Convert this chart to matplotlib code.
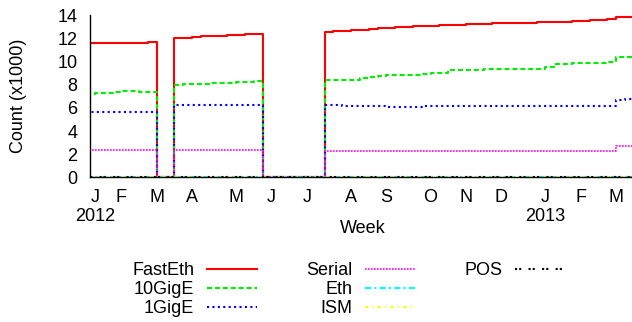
import matplotlib
matplotlib.use('Agg')
import matplotlib.pyplot as plt
from matplotlib.lines import Line2D

plt.rcParams['font.family'] = ['Liberation Sans', 'DejaVu Sans']
plt.rcParams['font.size'] = 13

# --- DATI (migliaia di interfacce, una riga per settimana) ---
weeks = list(range(63))

fasteth = [11.55, 11.57, 11.59, 11.60, 11.61, 11.62, 11.63, 11.64,
           0, 0,
           12.00, 12.05, 12.10, 12.15, 12.19, 12.23, 12.27, 12.31, 12.35, 12.38,
           0, 0, 0, 0, 0, 0, 0,
           12.56, 12.60, 12.64, 12.68, 12.73, 12.78, 12.84, 12.89, 12.93, 12.97,
           13.01, 13.05, 13.09, 13.12, 13.15, 13.18, 13.21, 13.23, 13.25, 13.27,
           13.29, 13.31, 13.33, 13.35, 13.37, 13.39, 13.41, 13.43, 13.46, 13.49,
           13.53, 13.57, 13.62, 13.82, 13.85, 13.86]
gige10 = [7.20, 7.24, 7.32, 7.40, 7.44, 7.42, 7.38, 7.34,
          0, 0,
          8.00, 8.03, 8.06, 8.09, 8.12, 8.15, 8.18, 8.21, 8.25, 8.28,
          0, 0, 0, 0, 0, 0, 0,
          8.38, 8.38, 8.39, 8.40, 8.60, 8.62, 8.75, 8.84, 8.84, 8.85,
          8.86, 8.88, 9.00, 9.02, 9.27, 9.28, 9.29, 9.30, 9.31, 9.32,
          9.33, 9.34, 9.35, 9.36, 9.37, 9.53, 9.74, 9.76, 9.88, 9.89,
          9.90, 9.90, 9.92, 10.40, 10.42, 10.45]
gige1 = [5.60, 5.60, 5.60, 5.61, 5.61, 5.60, 5.60, 5.60,
         0, 0,
         6.22, 6.22, 6.22, 6.22, 6.22, 6.22, 6.22, 6.23, 6.23, 6.23,
         0, 0, 0, 0, 0, 0, 0,
         6.26, 6.25, 6.17, 6.16, 6.16, 6.15, 6.15, 6.08, 6.07, 6.07,
         6.08, 6.12, 6.13, 6.13, 6.13, 6.13, 6.13, 6.13, 6.13, 6.13,
         6.13, 6.13, 6.13, 6.13, 6.13, 6.13, 6.13, 6.13, 6.13, 6.13,
         6.13, 6.13, 6.13, 6.70, 6.72, 6.72]
serial = [2.33] * 8 + [0] * 2 + [2.33] * 10 + [0] * 7 + [2.27] * 33 + [2.70] * 3
eth = [0.05] * 8 + [0] * 2 + [0.05] * 10 + [0] * 7 + [0.05] * 36
ism = [0.03] * 8 + [0] * 2 + [0.03] * 10 + [0] * 7 + [0.03] * 36
pos = [0.08] * 8 + [0] * 2 + [0.08] * 10 + [0] * 7 + [0.08] * 36

month_weeks = [1, 4, 8, 12, 17, 21, 25, 30, 34, 39, 43, 47, 52, 56, 60]
month_labels = ['J\n2012', 'F', 'M', 'A', 'M', 'J', 'J', 'A', 'S', 'O', 'N', 'D',
                'J\n2013', 'F', 'M']

# --- GRAFICO ---
fig = plt.figure(figsize=(6.32, 3.22), dpi=100)
ax = fig.add_axes([0.1424, 0.4488, 0.8576, 0.5046])

lw = 1.5
l1, = ax.plot(weeks, fasteth, color='#ff0000', lw=lw, drawstyle='steps-post', label='FastEth')
l2, = ax.plot(weeks, gige10, color='#00ee00', lw=lw, drawstyle='steps-post',
              dashes=(2.4, 1.4), label='10GigE')
l3, = ax.plot(weeks, gige1, color='#0000ff', lw=lw, drawstyle='steps-post',
              dashes=(1.0, 1.6), label='1GigE')
l4, = ax.plot(weeks, serial, color='#ff00ff', lw=1.2, drawstyle='steps-post',
              dashes=(1.0, 0.8), label='Serial')
l5, = ax.plot(weeks, eth, color='#00ffff', lw=lw, drawstyle='steps-post',
              dashes=(3, 1.5, 1, 1.5), label='Eth')
l6, = ax.plot(weeks, ism, color='#ffff00', lw=lw, drawstyle='steps-post',
              dashes=(1.5, 2, 0.6, 2), label='ISM')
l7, = ax.plot(weeks, pos, color='black', lw=lw, drawstyle='steps-post',
              dashes=(1, 1, 1, 3.5), label='POS')

ax.set_xlim(0.45, 61.8)
ax.set_ylim(0, 14)
ax.set_yticks(range(0, 15, 2))
ax.set_xticks(month_weeks)
ax.set_xticklabels(month_labels, linespacing=1.15)
ax.tick_params(axis='both', length=0)
ax.tick_params(axis='y', pad=9)
ax.tick_params(axis='x', pad=8)

for side in ['top', 'right']:
    ax.spines[side].set_visible(False)
for side in ['left', 'bottom']:
    ax.spines[side].set_linewidth(1.0)

ax.set_ylabel('Count (x1000)', va='center')
ax.yaxis.set_label_coords(-0.131, 0.5)
ax.set_xlabel('Week', va='center')
ax.xaxis.set_label_coords(0.504, -0.317)

# legenda stile gnuplot: testo a sinistra, 3 colonne
blank = Line2D([], [], linestyle='none')
handles = [l1, l2, l3, l4, l5, l6, l7, blank, blank]
labels = ['FastEth', '10GigE', '1GigE', 'Serial', 'Eth', 'ISM', 'POS', '', '']
fig.legend(handles, labels, ncol=3, loc='center', bbox_to_anchor=(0.552, 0.1),
           frameon=False, markerfirst=False, handlelength=2.8, handletextpad=0.7,
           columnspacing=2.7, labelspacing=0.12, fontsize=13, borderpad=0)

fig.savefig('out.png', dpi=100)
